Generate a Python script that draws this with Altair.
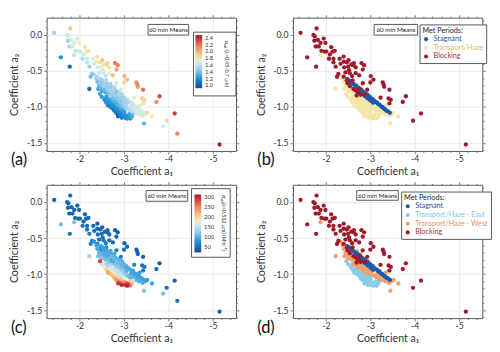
import altair as alt
import pandas as pd

FONT = "Lato"

# ---- data: [a1, a2, alpha_value (panel a), sigma_value (panel c)] ----
blocking = [
    [-1.43, 0.03, 1.50, 40], [-1.58, -0.31, 1.20, 110], [-1.72, 0.00, 1.70, 40], [-1.75, -0.02, 1.72, 45],
    [-1.79, 0.09, 1.90, 45], [-1.74, -0.08, 1.50, 40], [-1.82, -0.07, 1.72, 45], [-1.77, -0.16, 1.55, 40],
    [-1.84, -0.16, 1.65, 45], [-1.88, -0.11, 1.75, 40], [-1.90, -0.22, 1.60, 50], [-1.78, -0.44, 1.05, 50],
    [-1.99, -0.11, 1.75, 45], [-1.97, -0.23, 1.68, 45], [-2.01, -0.23, 1.62, 50], [-2.07, -0.33, 1.55, 50],
    [-2.09, -0.27, 1.70, 45], [-2.15, -0.23, 1.78, 40], [-2.20, -0.22, 1.80, 45], [-2.17, -0.33, 1.62, 50],
    [-2.17, -0.38, 1.58, 55], [-2.22, -0.44, 1.50, 60], [-2.28, -0.54, 1.45, 60], [-2.25, -0.58, 1.40, 65],
    [-2.31, -0.33, 1.72, 45], [-2.40, -0.30, 1.82, 40], [-2.40, -0.37, 1.76, 45], [-2.41, -0.45, 1.70, 50],
    [-2.44, -0.52, 1.62, 55], [-2.47, -0.38, 1.80, 45], [-2.51, -0.35, 1.92, 40], [-2.50, -0.44, 1.75, 45],
    [-2.52, -0.49, 1.70, 50], [-2.54, -0.53, 1.66, 55], [-2.57, -0.41, 1.85, 40], [-2.62, -0.42, 1.82, 45],
    [-2.63, -0.39, 1.88, 40], [-2.59, -0.57, 1.62, 60], [-2.60, -0.63, 1.55, 65], [-2.67, -0.53, 1.75, 50],
    [-2.67, -0.45, 1.80, 45], [-2.75, -0.56, 1.95, 45], [-2.80, -0.39, 2.20, 35], [-2.86, -0.42, 2.15, 35],
    [-2.83, -0.48, 2.05, 40], [-2.83, -0.67, 1.70, 60], [-2.76, -0.75, 1.55, 70], [-2.78, -0.83, 1.50, 75],
    [-2.72, -0.80, 1.50, 75], [-2.67, -0.77, 1.52, 70], [-2.69, -0.84, 1.48, 80], [-2.88, -0.83, 1.55, 70],
    [-3.01, -0.57, 2.00, 40], [-3.07, -0.62, 1.95, 45], [-3.00, -0.66, 1.85, 50], [-2.93, -0.76, 1.70, 60],
    [-3.28, -0.66, 2.10, 40], [-3.30, -0.69, 2.15, 40], [-3.31, -0.72, 2.10, 45], [-3.23, -0.87, 1.75, 60],
    [-3.43, -0.76, 2.20, 40], [-3.41, -0.88, 1.90, 50], [-3.46, -0.90, 1.85, 55], [-3.43, -0.95, 1.80, 60],
    [-3.73, -0.93, 2.10, 45], [-3.80, -0.85, 2.30, 35], [-4.14, -1.09, 2.35, 40], [-3.96, -1.19, 1.85, 55],
    [-5.15, -1.52, 2.45, 40], [-2.40, -0.58, 1.55, 60], [-2.47, -0.63, 1.50, 65], [-2.49, -0.67, 1.45, 70],
    [-2.54, -0.71, 1.50, 70], [-2.62, -0.75, 1.48, 75], [-2.33, -0.40, 1.68, 50], [-2.12, -0.17, 1.80, 40],
    [-1.95, -0.05, 1.65, 40],
]

stagnant = [
    [-2.48, -0.61, 1.55, 85], [-2.52, -0.63, 1.52, 88], [-2.55, -0.65, 1.50, 90], [-2.58, -0.66, 1.55, 85],
    [-2.62, -0.68, 1.48, 92], [-2.66, -0.70, 1.50, 90], [-2.69, -0.71, 1.52, 95], [-2.72, -0.73, 1.45, 98],
    [-2.75, -0.74, 1.50, 95], [-2.78, -0.76, 1.48, 100], [-2.81, -0.77, 1.52, 95], [-2.84, -0.79, 1.45, 100],
    [-2.87, -0.80, 1.50, 98], [-2.90, -0.82, 1.55, 95], [-2.93, -0.83, 1.48, 100], [-2.96, -0.85, 1.52, 98],
    [-2.99, -0.86, 1.55, 95], [-3.02, -0.88, 1.50, 100], [-3.05, -0.89, 1.58, 92], [-3.08, -0.91, 1.55, 95],
    [-3.12, -0.93, 1.60, 90], [-3.15, -0.94, 1.58, 92], [-3.18, -0.96, 1.62, 88], [-3.21, -0.97, 1.60, 90],
    [-3.24, -0.99, 1.62, 90], [-3.27, -1.00, 1.65, 85], [-3.30, -1.02, 1.62, 88], [-3.33, -1.03, 1.65, 85],
    [-3.36, -1.05, 1.68, 85], [-3.40, -1.06, 1.70, 80], [-3.44, -1.08, 1.68, 85], [-2.70, -0.76, 1.42, 105],
    [-2.76, -0.79, 1.45, 105], [-2.82, -0.82, 1.42, 108], [-2.88, -0.85, 1.45, 105], [-2.94, -0.88, 1.48, 102],
    [-3.00, -0.91, 1.50, 100], [-3.06, -0.94, 1.52, 98],
]

transport_west = [
    [-1.88, -0.28, 1.60, 115], [-2.22, -0.75, 1.05, 135], [-2.33, -0.55, 1.55, 80], [-2.38, -0.60, 1.45, 90],
    [-2.40, -0.65, 1.40, 95], [-2.44, -0.70, 1.38, 100], [-2.42, -0.75, 1.30, 110], [-2.48, -0.73, 1.35, 105],
    [-2.50, -0.78, 1.30, 115], [-2.52, -0.70, 1.42, 95], [-2.56, -0.75, 1.38, 100], [-2.58, -0.80, 1.32, 110],
    [-2.60, -0.86, 1.25, 130], [-2.62, -0.72, 1.45, 95], [-2.64, -0.78, 1.40, 105], [-2.66, -0.82, 1.35, 110],
    [-2.68, -0.88, 1.28, 140], [-2.70, -0.68, 1.52, 90], [-2.72, -0.86, 1.38, 115], [-2.74, -0.91, 1.30, 160],
    [-2.77, -0.88, 1.40, 120], [-2.80, -0.92, 1.35, 130], [-2.82, -0.86, 1.45, 110], [-2.84, -0.95, 1.32, 150],
    [-2.86, -0.90, 1.42, 120], [-2.88, -0.97, 1.35, 140], [-2.90, -0.88, 1.50, 105], [-2.93, -0.93, 1.45, 115],
    [-2.95, -0.99, 1.40, 130], [-2.98, -0.95, 1.50, 110], [-3.02, -1.00, 1.48, 115], [-3.05, -0.96, 1.55, 100],
    [-3.08, -1.02, 1.52, 110], [-3.12, -1.04, 1.55, 105], [-3.15, -1.00, 1.62, 95], [-3.18, -1.06, 1.58, 100],
    [-3.22, -1.03, 1.65, 95], [-3.26, -1.08, 1.62, 100], [-3.30, -1.05, 1.70, 90], [-3.34, -1.10, 1.68, 95],
    [-3.38, -1.07, 1.75, 90], [-3.42, -1.12, 1.72, 95], [-3.47, -1.10, 1.80, 85], [-3.52, -1.08, 1.85, 80],
    [-3.45, -1.23, 1.35, 120], [-3.63, -1.13, 1.75, 90], [-3.20, -0.95, 1.70, 90], [-3.35, -0.98, 1.78, 85],
    [-2.95, -0.82, 1.60, 95], [-2.78, -0.72, 1.58, 90],
]

transport_east = [
    [-2.62, -0.88, 1.22, 120], [-2.66, -0.93, 1.18, 160], [-2.68, -0.97, 1.20, 190], [-2.72, -0.95, 1.22, 170],
    [-2.70, -1.00, 1.15, 210], [-2.74, -1.02, 1.12, 200], [-2.76, -0.98, 1.20, 175], [-2.78, -1.05, 1.10, 220],
    [-2.80, -1.01, 1.18, 180], [-2.82, -1.08, 1.12, 230], [-2.84, -1.03, 1.20, 190], [-2.86, -1.10, 1.10, 250],
    [-2.87, -1.13, 1.00, 290], [-2.88, -1.06, 1.18, 200], [-2.90, -1.00, 1.25, 150], [-2.91, -1.12, 1.12, 270],
    [-2.93, -1.08, 1.18, 210], [-2.95, -1.15, 1.15, 300], [-2.97, -1.04, 1.25, 160], [-2.99, -1.11, 1.18, 240],
    [-3.01, -1.07, 1.25, 180], [-3.03, -1.15, 1.15, 290], [-3.05, -1.12, 1.20, 260], [-3.07, -1.16, 1.18, 305],
    [-3.10, -1.14, 1.22, 280], [-3.12, -1.10, 1.28, 200], [-3.14, -1.16, 1.25, 250], [-2.74, -0.90, 1.28, 130],
    [-2.80, -0.95, 1.25, 140], [-2.85, -0.98, 1.28, 135], [-2.92, -1.02, 1.30, 140], [-2.96, -0.96, 1.32, 125],
    [-3.00, -1.02, 1.32, 130], [-2.64, -0.98, 1.15, 230], [-2.60, -0.94, 1.20, 200], [-2.56, -0.90, 1.18, 180],
    [-2.50, -0.86, 1.25, 150], [-2.46, -0.82, 1.30, 280], [-3.18, -1.13, 1.30, 210], [-3.20, -1.09, 1.35, 150],
]

# points with no met-period class (only in panels a and c)
unclassified = [
    [-4.20, -1.37, 2.15, 50], [-3.88, -1.27, 1.65, 110],
]

# colour map (low -> high)
cmap = ["#1d4a8e", "#1766b0", "#1a86cf", "#3aa2dd", "#78bee6", "#a8d3ea", "#d4e7ee",
        "#f2ebbe", "#f6cf95", "#f4ae78", "#ee8c63", "#e2614f", "#cc3a3c", "#a11c2d"]

alpha_ticks = [1.0, 1.2, 1.4, 1.6, 1.8, 2.0, 2.2, 2.4]
sigma_ticks = [50, 100, 150, 200, 250, 300]
alpha_title = "\u03b1\u2091\u2093\u209c (\u03bb=0.45-0.7 \u03bcm)"
sigma_title = "\u03c3\u2091\u2093\u209c(\u03bb=0.532 \u03bcm) (Mm\u207b\u00b9)"

met3_names = ["Stagnant", "Transport/Haze", "Blocking"]
met3_colors = ["#1a5bb0", "#f3e6a8", "#9e1b2b"]
met3_text = ["#2c50a5", "#d9c45a", "#a8303e"]
met4_names = ["Stagnant", "Transport/Haze - East", "Transport/Haze - West", "Blocking"]
met4_colors = ["#1a5bb0", "#86cdea", "#f0a070", "#9e1b2b"]
met4_text = ["#2c50a5", "#7cc6e6", "#ea9060", "#a8303e"]

# ---- build the table ----
rows = []
for name, grp in [("None", unclassified), ("East", transport_east), ("West", transport_west),
                  ("Stagnant", stagnant), ("Blocking", blocking)]:
    for a1, a2, al, sg in grp:
        rows.append({"a1": a1, "a2": a2, "alpha": al, "sigma": sg, "period": name})
df = pd.DataFrame(rows)
df["met3"] = df["period"].map({"None": None, "East": "Transport/Haze", "West": "Transport/Haze",
                               "Stagnant": "Stagnant", "Blocking": "Blocking"})
df["met4"] = df["period"].map({"None": None, "East": "Transport/Haze - East",
                               "West": "Transport/Haze - West",
                               "Stagnant": "Stagnant", "Blocking": "Blocking"})
df_met = df[df["period"] != "None"].reset_index(drop=True)

# ---- axes ----
XS = alt.Scale(domain=[-5.52, -1.26], reverse=True, nice=False, zero=False)
YS = alt.Scale(domain=[-1.61, 0.24], nice=False, zero=False)
x_ticks = [round(-1.4 - 0.2 * i, 1) for i in range(21)]
y_ticks = [round(0.2 - 0.1 * i, 1) for i in range(19)]
XMAJ = "abs(datum.value - round(datum.value)) < 0.001"
YMAJ = "abs(datum.value * 2 - round(datum.value * 2)) < 0.001"


def make_axis(orient):
    is_x = orient in ("bottom", "top")
    test = XMAJ if is_x else YMAJ
    fmt = ".0f" if is_x else ".1f"
    labeled = orient in ("bottom", "left")
    kw = dict(
        orient=orient,
        values=x_ticks if is_x else y_ticks,
        domain=False,
        tickColor="#555",
        tickWidth=0.8,
        tickSize={"condition": {"test": test, "value": 3}, "value": 1.5},
        labelOverlap=False,
        labelFlush=False,
    )
    if labeled:
        kw.update(
            labelExpr=f"{test} ? (datum.value < 0 ? '-' : '') + format(abs(datum.value), '{fmt}') : ''",
            labelFont=FONT, labelFontSize=9, labelColor="#333", labelPadding=1 if is_x else 2,
            title="Coefficient a\u2081" if is_x else "Coefficient a\u2082",
            titleFont=FONT, titleFontSize=11, titleFontWeight="normal", titleColor="#333",
            titlePadding=2 if is_x else 7,
            grid=True, gridColor="#e2e2f2", gridWidth=0.8,
            gridOpacity={"condition": {"test": test, "value": 1}, "value": 0},
        )
    else:
        kw.update(labels=False, title=None, grid=False)
    return alt.Axis(**kw)


note_df = pd.DataFrame({"note": ["60 min Means"]})


def panel(data, color, letter, note_box, order=None, cbar=None):
    enc = dict(
        x=alt.X("a1:Q", scale=XS, axis=make_axis("bottom")),
        y=alt.Y("a2:Q", scale=YS, axis=make_axis("left")),
        color=color,
    )
    if order is not None:
        enc["order"] = order
    pts = alt.Chart(data).mark_circle(size=20, opacity=1).encode(**enc)
    mirror = alt.Chart(data).mark_point(opacity=0).encode(
        x=alt.X("a1:Q", scale=XS, axis=make_axis("top")),
        y=alt.Y("a2:Q", scale=YS, axis=make_axis("right")),
    )
    x0, x1, y0, y1 = note_box
    box = alt.Chart(note_df).mark_rect(fill="white", stroke="#555", strokeWidth=1).encode(
        x=alt.value(x0), x2=alt.value(x1), y=alt.value(y0), y2=alt.value(y1))
    txt = alt.Chart(note_df).mark_text(font=FONT, fontSize=6.5, color="#222").encode(
        x=alt.value((x0 + x1) / 2), y=alt.value((y0 + y1) / 2 + 0.5), text="note:N")
    lab = alt.Chart(pd.DataFrame({"lab": [f"({letter})"]})).mark_text(
        font=FONT, fontSize=17, align="left", baseline="middle", color="#111").encode(
        x=alt.value(-37), y=alt.value(148), text="lab:N")
    layers = [pts, mirror, box, txt, lab]
    if cbar is not None:
        title, (bx0, bx1, by0, by1), tx = cbar
        cbox = alt.Chart(note_df).mark_rect(fill="white", stroke="#555", strokeWidth=1).encode(
            x=alt.value(bx0), x2=alt.value(bx1), y=alt.value(by0), y2=alt.value(by1))
        ctitle = alt.Chart(pd.DataFrame({"t": [title]})).mark_text(
            font=FONT, fontSize=5.5, angle=90, color="#333", align="center", baseline="middle").encode(
            x=alt.value(tx), y=alt.value((by0 + by1) / 2), text="t:N")
        layers = [cbox, ctitle] + layers
    return alt.layer(*layers).resolve_axis(
        x="independent", y="independent").properties(width=196, height=138)


def grad_legend(values, x, y, length, fmt):
    return alt.Legend(
        orient="none", legendX=x, legendY=y, direction="vertical", title=None,
        values=values, gradientLength=length, gradientThickness=7, gradientStrokeWidth=0,
        labelFont=FONT, labelFontSize=6, labelColor="#333", labelOffset=3, padding=0,
        format=fmt,
    )


def cat_legend(names, colors_txt, x, y):
    expr = " : ".join(f"datum.label == '{n}' ? '{c}'" for n, c in zip(names[:-1], colors_txt[:-1]))
    expr += f" : '{colors_txt[-1]}'"
    return alt.Legend(
        orient="none", legendX=x, legendY=y, title="Met Periods:",
        titleFont=FONT, titleFontSize=7.5, titleFontWeight="normal", titleColor="#222",
        titlePadding=1, labelFont=FONT, labelFontSize=7.5, labelColor=alt.expr(expr),
        symbolType="circle", symbolSize=18, symbolStrokeWidth=0, rowPadding=0,
        fillColor="white", strokeColor="#555", padding=3, labelOffset=4,
    )


def stops(lo, hi):
    n = len(cmap)
    return [lo + (hi - lo) * i / (n - 1) for i in range(n)]


color_a = alt.Color("alpha:Q", scale=alt.Scale(domain=stops(0.92, 2.48), range=cmap),
                    legend=grad_legend(alpha_ticks, 154, 18, 55, ".1f"))
color_c = alt.Color("sigma:Q", scale=alt.Scale(domain=stops(21, 312), range=cmap),
                    legend=grad_legend(sigma_ticks, 153, 10, 60, "d"))
color_b = alt.Color("met3:N", scale=alt.Scale(domain=met3_names, range=met3_colors),
                    legend=cat_legend(met3_names, met3_text, 131, 7))
color_d = alt.Color("met4:N", scale=alt.Scale(domain=met4_names, range=met4_colors),
                    legend=cat_legend(met4_names, met4_text, 112, 7))

pa = panel(df, color_a, "a", (105, 147, 7, 18), cbar=(alpha_title, (152, 196, 15, 81), 187))
pb = panel(df_met, color_b, "b", (84, 129, 7, 18))
pc = panel(df, color_c, "c", (103, 146, 6, 17), order=alt.Order("sigma:Q"),
           cbar=(sigma_title, (150, 190, 4, 75), 183))
pd_ = panel(df_met, color_d, "d", (66, 109, 6, 16))

top = alt.hconcat(pa, pb, spacing=15).resolve_scale(color="independent").resolve_legend(color="independent")
bottom = alt.hconcat(pc, pd_, spacing=15).resolve_scale(color="independent").resolve_legend(color="independent")
chart = alt.vconcat(top, bottom, spacing=4).resolve_scale(color="independent").resolve_legend(
    color="independent").properties(padding=0).configure_view(stroke="#555", strokeWidth=1)

chart.save("out.html", embed_options={"renderer": "svg", "actions": False})
